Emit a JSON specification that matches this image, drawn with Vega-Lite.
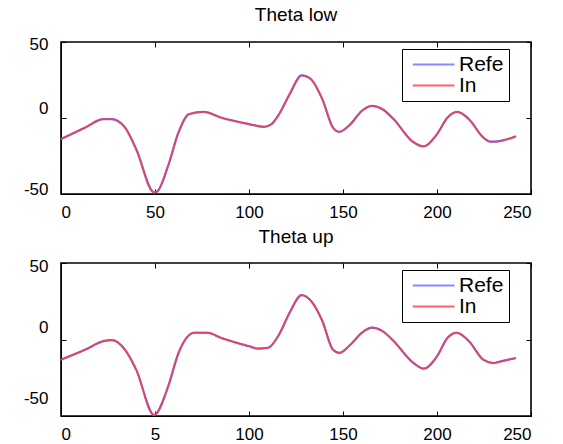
{
  "$schema": "https://vega.github.io/schema/vega-lite/v6.json",
  "background": "white",
  "padding": {"left": 22, "top": 5, "right": 12, "bottom": 0},
  "config": {
    "font": "Liberation Sans",
    "view": {"stroke": "black", "strokeWidth": 1.6},
    "axis": {"labelFont": "Liberation Sans", "labelFontSize": 17, "labelColor": "black", "domainColor": "black", "tickColor": "black", "grid": false, "title": null, "tickSize": -5},
    "axisX": {"labelPadding": 15},
    "axisY": {"labelPadding": 18},
    "title": {"fontSize": 19, "fontWeight": "normal", "font": "Liberation Sans", "offset": 10, "color": "black"},
    "legend": {"orient": "none", "legendX": 341, "legendY": 7, "strokeColor": "black", "fillColor": "white", "padding": 5, "symbolType": "M-0.5,0H3.9", "symbolSize": 361, "symbolStrokeWidth": 2, "labelFontSize": 21, "labelFont": "Liberation Sans", "labelColor": "black", "title": null, "rowPadding": -4, "labelOffset": 31}
  },
  "datasets": {
    "low": [
      {"x": 0, "Refe": -13.9, "In": -13.9},
      {"x": 13, "Refe": -6.2, "In": -6.2},
      {"x": 22.5, "Refe": -0.8, "In": -0.8},
      {"x": 27, "Refe": -0.8, "In": -0.8},
      {"x": 34, "Refe": -6.2, "In": -6.2},
      {"x": 40, "Refe": -20.5, "In": -20.5},
      {"x": 49.5, "Refe": -48.9, "In": -48.9},
      {"x": 51, "Refe": -48.5, "In": -48.5},
      {"x": 57, "Refe": -31.4, "In": -31.4},
      {"x": 62.5, "Refe": -9.5, "In": -9.5},
      {"x": 68, "Refe": 2.5, "In": 2.5},
      {"x": 76, "Refe": 4.0, "In": 4.0},
      {"x": 85, "Refe": 0.3, "In": 0.3},
      {"x": 100, "Refe": -4, "In": -4},
      {"x": 108, "Refe": -5.8, "In": -5.8},
      {"x": 112, "Refe": -4, "In": -4},
      {"x": 116, "Refe": 2.5, "In": 2.5},
      {"x": 121.6, "Refe": 15.6, "In": 15.6},
      {"x": 128, "Refe": 28.1, "In": 28.1},
      {"x": 133, "Refe": 25.5, "In": 25.5},
      {"x": 139, "Refe": 12.4, "In": 12.4},
      {"x": 144.6, "Refe": -6.2, "In": -6.2},
      {"x": 148, "Refe": -9.1, "In": -9.1},
      {"x": 154, "Refe": -4, "In": -4},
      {"x": 160, "Refe": 4.7, "In": 4.7},
      {"x": 165.5, "Refe": 8, "In": 8},
      {"x": 171, "Refe": 5.8, "In": 5.8},
      {"x": 177, "Refe": -0.8, "In": -0.8},
      {"x": 186.5, "Refe": -15, "In": -15},
      {"x": 193, "Refe": -18.7, "In": -18.7},
      {"x": 200, "Refe": -10.6, "In": -10.6},
      {"x": 205.6, "Refe": 0.3, "In": 0.3},
      {"x": 211, "Refe": 4, "In": 4},
      {"x": 217, "Refe": -0.8, "In": -0.8},
      {"x": 224.6, "Refe": -12.8, "In": -12.8},
      {"x": 228.5, "Refe": -15.6, "In": -15.6},
      {"x": 234, "Refe": -15, "In": -15},
      {"x": 242, "Refe": -12.1, "In": -12.1}
    ],
    "up": [
      {"x": 0, "Refe": -13.2, "In": -13.2},
      {"x": 13, "Refe": -6.6, "In": -6.6},
      {"x": 22.5, "Refe": -1.1, "In": -1.1},
      {"x": 27, "Refe": -0.4, "In": -0.4},
      {"x": 34, "Refe": -6.6, "In": -6.6},
      {"x": 40, "Refe": -19.7, "In": -19.7},
      {"x": 49.5, "Refe": -49.3, "In": -49.3},
      {"x": 57, "Refe": -30.7, "In": -30.7},
      {"x": 62.5, "Refe": -8.8, "In": -8.8},
      {"x": 71, "Refe": 4.4, "In": 4.4},
      {"x": 78, "Refe": 4.4, "In": 4.4},
      {"x": 85, "Refe": 1.1, "In": 1.1},
      {"x": 100, "Refe": -4.4, "In": -4.4},
      {"x": 104.5, "Refe": -5.9, "In": -5.9},
      {"x": 110, "Refe": -5.5, "In": -5.5},
      {"x": 116, "Refe": 3.3, "In": 3.3},
      {"x": 121.6, "Refe": 17.5, "In": 17.5},
      {"x": 128, "Refe": 29, "In": 29},
      {"x": 133, "Refe": 25.2, "In": 25.2},
      {"x": 139, "Refe": 12.1, "In": 12.1},
      {"x": 144.6, "Refe": -6.6, "In": -6.6},
      {"x": 148, "Refe": -8.8, "In": -8.8},
      {"x": 154, "Refe": -3.3, "In": -3.3},
      {"x": 160, "Refe": 4.4, "In": 4.4},
      {"x": 165.5, "Refe": 7.7, "In": 7.7},
      {"x": 171, "Refe": 5.5, "In": 5.5},
      {"x": 177, "Refe": -1.1, "In": -1.1},
      {"x": 186.5, "Refe": -14.3, "In": -14.3},
      {"x": 193, "Refe": -19.1, "In": -19.1},
      {"x": 200, "Refe": -11, "In": -11},
      {"x": 205.6, "Refe": 1.1, "In": 1.1},
      {"x": 210.5, "Refe": 4.4, "In": 4.4},
      {"x": 217, "Refe": -1.1, "In": -1.1},
      {"x": 224.6, "Refe": -13.2, "In": -13.2},
      {"x": 230, "Refe": -15.4, "In": -15.4},
      {"x": 234, "Refe": -14.3, "In": -14.3},
      {"x": 242, "Refe": -12.1, "In": -12.1}
    ]
  },
  "spacing": 6,
  "resolve": {"legend": {"color": "independent"}},
  "vconcat": [
    {
      "title": "Theta low",
      "width": 470,
      "height": 152,
      "data": {"name": "low"},
      "transform": [{"fold": ["Refe", "In"], "as": ["series", "y"]}],
      "resolve": {"axis": {"x": "independent", "y": "independent"}},
      "layer": [
        {
          "transform": [{"filter": "datum.series == 'Refe'"}],
          "mark": {"type": "line", "interpolate": "monotone", "strokeWidth": 2.2},
          "encoding": {
            "x": {"field": "x", "type": "quantitative", "scale": {"domain": [0, 250], "nice": false}, "axis": {"orient": "bottom", "values": [0, 50, 100, 150, 200, 250]}},
            "y": {"field": "y", "type": "quantitative", "scale": {"domain": [-50, 50], "nice": false}, "axis": {"orient": "left", "values": [-50, 0, 50], "labelExpr": "'' + datum.value", "labelOffset": {"condition": [{"test": "datum.value == 0", "value": -10}, {"test": "datum.value == -50", "value": -5}], "value": 2}}},
            "color": {"field": "series", "type": "nominal", "scale": {"domain": ["Refe", "In"], "range": ["#6e6eff", "#ff3b3b"]}, "sort": ["Refe", "In"], "legend": {"labelExpr": "datum.label + '\u00a0\u00a0\u00a0\u00a0\u00a0'"}}
          }
        },
        {
          "transform": [{"filter": "datum.series == 'In'"}],
          "mark": {"type": "line", "interpolate": "monotone", "strokeWidth": 1.8, "opacity": 0.8},
          "encoding": {
            "x": {"field": "x", "type": "quantitative", "scale": {"domain": [0, 250], "nice": false}, "axis": {"orient": "top", "values": [0, 50, 100, 150, 200, 250], "labels": false, "domain": false}},
            "y": {"field": "y", "type": "quantitative", "scale": {"domain": [-50, 50], "nice": false}, "axis": {"orient": "right", "values": [-50, 0, 50], "labels": false, "domain": false}},
            "color": {"field": "series", "type": "nominal", "scale": {"domain": ["Refe", "In"], "range": ["#6e6eff", "#ff3b3b"]}, "sort": ["Refe", "In"]}
          }
        }
      ]
    },
    {
      "title": "Theta up",
      "width": 470,
      "height": 153,
      "data": {"name": "up"},
      "transform": [{"fold": ["Refe", "In"], "as": ["series", "y"]}],
      "resolve": {"axis": {"x": "independent", "y": "independent"}},
      "layer": [
        {
          "transform": [{"filter": "datum.series == 'Refe'"}],
          "mark": {"type": "line", "interpolate": "monotone", "strokeWidth": 2.2},
          "encoding": {
            "x": {"field": "x", "type": "quantitative", "scale": {"domain": [0, 250], "nice": false}, "axis": {"orient": "bottom", "values": [0, 50, 100, 150, 200, 250], "labelExpr": "datum.value == 50 ? '5' : '' + datum.value"}},
            "y": {"field": "y", "type": "quantitative", "scale": {"domain": [-50, 50], "nice": false}, "axis": {"orient": "left", "values": [-50, 0, 50], "labelExpr": "'' + datum.value", "labelOffset": {"condition": [{"test": "datum.value == 0", "value": -12}, {"test": "datum.value == -50", "value": -18}], "value": 3}}},
            "color": {"field": "series", "type": "nominal", "scale": {"domain": ["Refe", "In"], "range": ["#2323ff", "#ff4545"]}, "sort": ["Refe", "In"], "legend": {"labelExpr": "datum.label + '\u00a0\u00a0\u00a0\u00a0\u00a0'"}}
          }
        },
        {
          "transform": [{"filter": "datum.series == 'In'"}],
          "mark": {"type": "line", "interpolate": "monotone", "strokeWidth": 1.8, "opacity": 0.8},
          "encoding": {
            "x": {"field": "x", "type": "quantitative", "scale": {"domain": [0, 250], "nice": false}, "axis": {"orient": "top", "values": [0, 50, 100, 150, 200, 250], "labels": false, "domain": false}},
            "y": {"field": "y", "type": "quantitative", "scale": {"domain": [-50, 50], "nice": false}, "axis": {"orient": "right", "values": [-50, 0, 50], "labels": false, "domain": false}},
            "color": {"field": "series", "type": "nominal", "scale": {"domain": ["Refe", "In"], "range": ["#2323ff", "#ff4545"]}, "sort": ["Refe", "In"]}
          }
        }
      ]
    }
  ]
}
